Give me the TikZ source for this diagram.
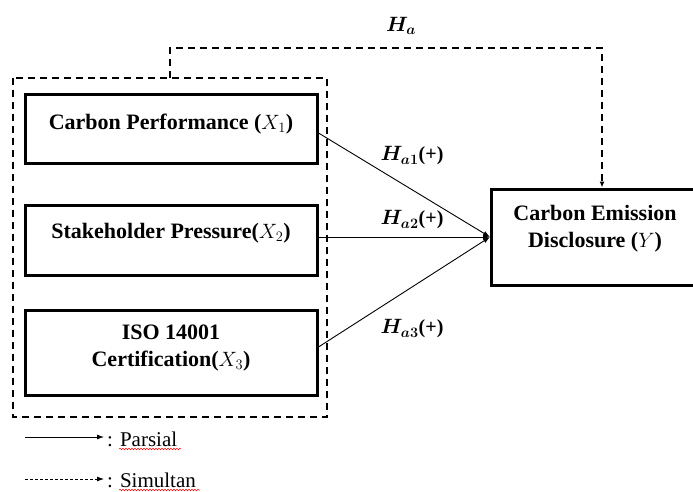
\documentclass[tikz,border=0pt]{standalone}
\usepackage{fontspec}
\setmainfont{Liberation Serif}
\usepackage{amsmath}
\usepackage{bm}
\usetikzlibrary{arrows.meta,decorations.pathmorphing}
\tikzset{
  varbox/.style={draw, line width=3pt, minimum width=292pt, inner sep=0pt},
  btxt/.style={align=center, font=\fontsize{22}{27}\selectfont\bfseries, inner sep=0pt},
  grpline/.style={dashed, line width=1.8pt, dash pattern=on 7pt off 5pt},
  conn/.style={line width=0.9pt, -{Latex[length=7pt,width=5pt]}},
  hlab/.style={font=\fontsize{20}{24}\selectfont},
  legtxt/.style={font=\fontsize{21}{24}\selectfont, anchor=west, inner sep=0pt},
}
\begin{document}
\begin{tikzpicture}[x=1pt,y=-1pt]
\useasboundingbox (0,0) rectangle (693,492);
\clip (0,0) rectangle (693,492);
% group box
\draw[grpline] (13,78) rectangle (327,417);
% variable boxes
\node[varbox, minimum height=68pt] (x1) at (171,129) {};
\node[btxt] (t1) at (171,124) {Carbon Performance ($X_1$)};
\node[varbox, minimum height=70pt] (x2) at (171,240) {};
\node[btxt] (t2) at (171,233) {Stakeholder Pressure($X_2$)};
\node[varbox, minimum height=85pt] (x3) at (171,352.5) {};
\node[btxt] (t3) at (171,348) {ISO 14001\\Certification($X_3$)};
% dependent box
\node[draw, line width=3pt, minimum width=215pt, minimum height=96pt, anchor=west, inner sep=0pt] (y) at (490,237) {};
\node[btxt] (ytxt) at (595,229) {Carbon Emission\\Disclosure ($Y$)};
% connectors
\coordinate (y1) at (490,237);
\draw[conn] (x1.east |- 0,133) -- (y1);
\draw[conn] (x2.east |- 0,237) -- (y1);
\draw[conn] (x3.east |- 0,347) -- (y1);
% simultaneous dashed connector
\coordinate (g) at (170,78);
\coordinate (gt) at (170,48);
\coordinate (yt) at (602,48);
\draw[grpline, -{Latex[length=6pt,width=5pt]}] (g) -- (gt) -- (yt) -- (yt |- y.north);
% labels
\node[hlab] (ha) at (401,26) {$\bm{H_a}$};
\node[hlab] (ha1) at (412,156) {$\bm{H_{a1}}$\textbf{(+)}};
\node[hlab] (ha2) at (412,220) {$\bm{H_{a2}}$\textbf{(+)}};
\node[hlab] (ha3) at (412,329) {$\bm{H_{a3}}$\textbf{(+)}};
% legend
\coordinate (l1a) at (25,437);
\coordinate (l1b) at (104,437);
\draw[line width=0.8pt, -{Latex[length=7pt,width=5pt]}] (l1a) -- (l1b);
\node[legtxt] (lt1) at (107,439) {: Parsial};
\coordinate (l2a) at (25,479);
\coordinate (l2b) at (104,479);
\draw[line width=0.8pt, dash pattern=on 3pt off 2pt, -{Latex[length=7pt,width=5pt]}] (l2a) -- (l2b);
\node[legtxt] (lt2) at (107,480) {: Simultan};
% spell-check squiggles
\draw[red, line width=0.5pt, decorate, decoration={snake, amplitude=0.8pt, segment length=3pt}] (119,449) -- (181,449);
\draw[red, line width=0.5pt, decorate, decoration={snake, amplitude=0.8pt, segment length=3pt}] (119,490) -- (200,490);
\end{tikzpicture}
\end{document}
